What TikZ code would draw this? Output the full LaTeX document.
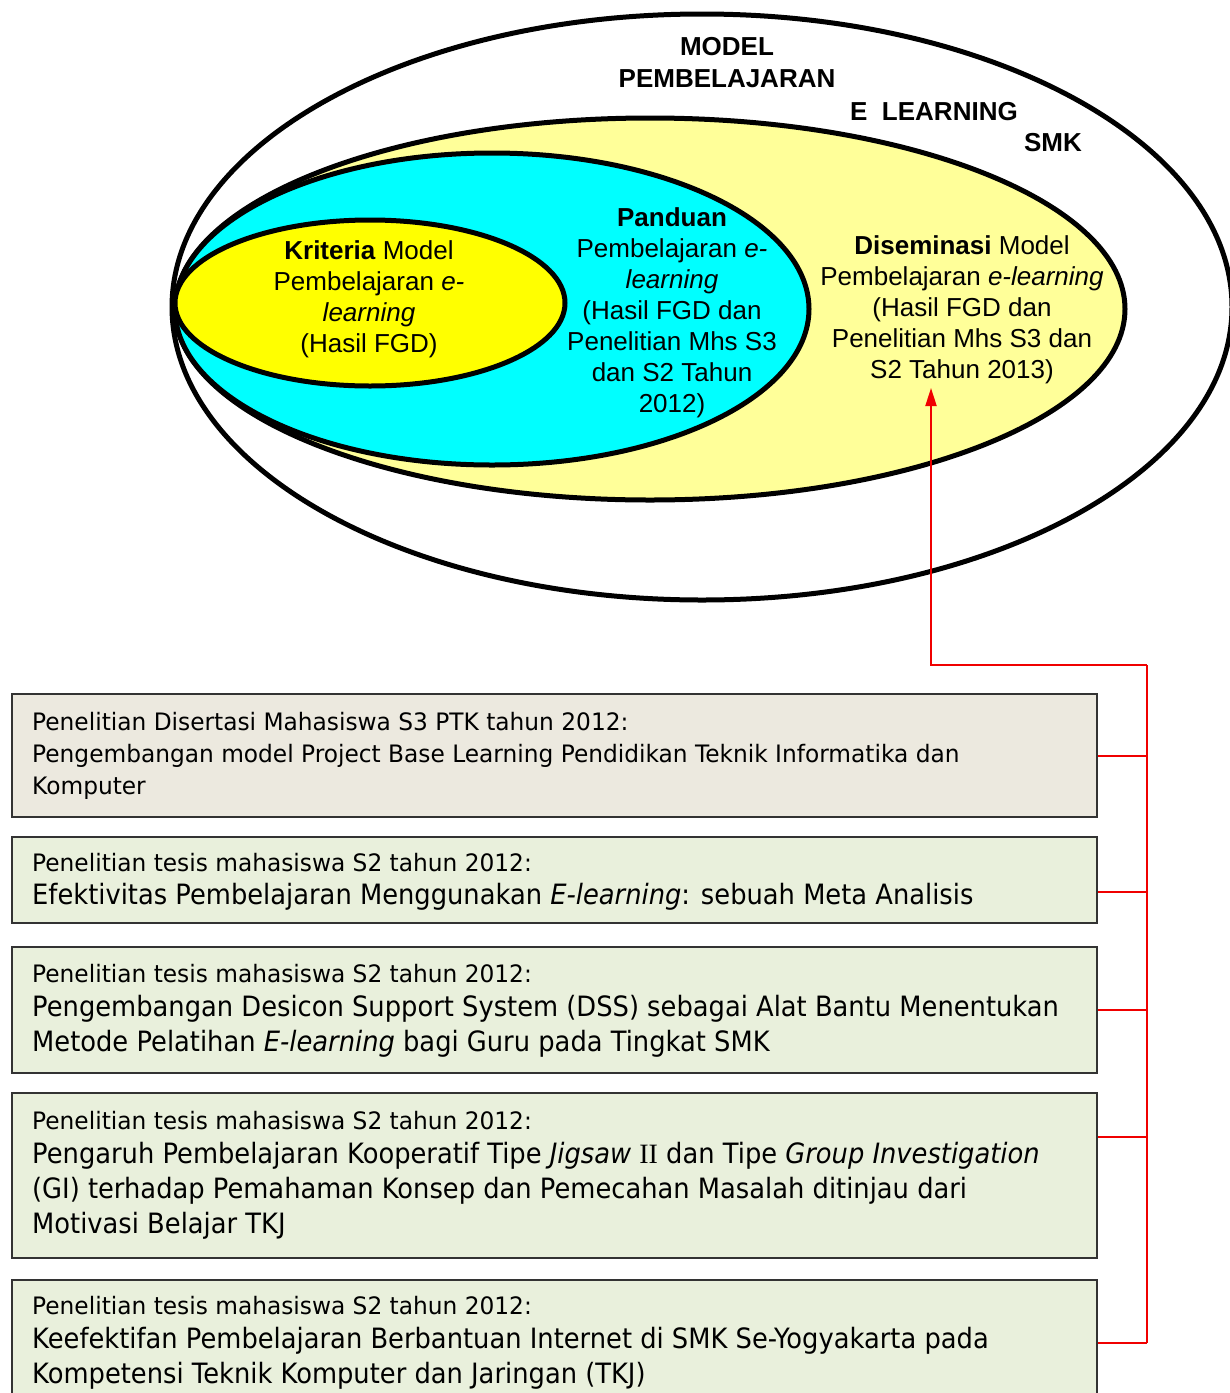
\documentclass[tikz,border=0pt]{standalone}
\usepackage{fontspec}
\setmainfont{Liberation Sans}
\newfontfamily\boxfontS[FakeStretch=0.97]{DejaVu Sans}
\newfontfamily\boxfontL[FakeStretch=0.92]{DejaVu Sans}
\newfontfamily\serifII{Liberation Serif}
\usetikzlibrary{arrows.meta}
\definecolor{paleY}{HTML}{FFFF99}
\definecolor{cyanE}{HTML}{00FFFF}
\definecolor{yelE}{HTML}{FFFF00}
\definecolor{boxA}{HTML}{ECE9DF}
\definecolor{boxB}{HTML}{E9F0DC}
\definecolor{boxline}{HTML}{333333}
\definecolor{redL}{HTML}{F00000}
\newcommand\bxsmall{\boxfontS\fontsize{24}{32}\selectfont}
\newcommand\bxlarge{\boxfontL\fontsize{28}{35}\selectfont}
\begin{document}
\begin{tikzpicture}[x=1pt,y=-1pt,
  ell/.style={line width=5pt,draw=black},
  etext/.style={align=center,font=\fontsize{26}{31}\selectfont,inner sep=0pt},
  ttl/.style={font=\bfseries\fontsize{26}{30}\selectfont,inner sep=0pt},
  rbox/.style={draw=boxline,line width=2pt,minimum width=1085pt,anchor=north west,inner sep=0pt},
  btext/.style={align=left,anchor=west,inner sep=0pt},
  conn/.style={draw=redL,line width=2pt}]
\clip (0,0) rectangle (1230,1393);
\fill[white] (0,0) rectangle (1230,1393);
% ellipses
\draw[ell,fill=white] (702,307) ellipse [x radius=530pt, y radius=293pt];
\draw[ell,fill=paleY] (650,309) ellipse [x radius=475pt, y radius=191pt];
\draw[ell,fill=cyanE] (492,309) ellipse [x radius=317pt, y radius=156pt];
\draw[ell,fill=yelE] (370,303) ellipse [x radius=195pt, y radius=83pt];
% titles
\node[ttl] (t1) at (727,47) {MODEL};
\node[ttl] (t2) at (727,79) {PEMBELAJARAN};
\node[ttl] (t3) at (934,112) {E\ \ LEARNING};
\node[ttl] (t4) at (1053,143) {SMK};
% ellipse texts
\node[etext] (krit) at (369,299) {\textbf{Kriteria} Model\\Pembelajaran \textit{e-}\\\textit{learning}\\(Hasil FGD)};
\node[etext] (pand) at (672,313) {\textbf{Panduan}\\Pembelajaran \textit{e-}\\\textit{learning}\\(Hasil FGD dan\\Penelitian Mhs S3\\dan S2 Tahun\\2012)};
\node[etext] (dis) at (962,310) {\textbf{Diseminasi} Model\\Pembelajaran \textit{e-learning}\\(Hasil FGD dan\\Penelitian Mhs S3 dan\\S2 Tahun 2013)};
% boxes
\node[rbox,fill=boxA,minimum height=123pt] (b1) at (11,693) {};
\node[rbox,fill=boxB,minimum height=86pt] (b2) at (11,836) {};
\node[rbox,fill=boxB,minimum height=126pt] (b3) at (11,946) {};
\node[rbox,fill=boxB,minimum height=165pt] (b4) at (11,1092) {};
\node[rbox,fill=boxB,minimum height=126pt] (b5) at (11,1279) {};
\node[btext,font=\bxsmall] (x1) at ([xshift=21pt]b1.west) {Penelitian Disertasi Mahasiswa S3 PTK tahun 2012:\\Pengembangan model Project Base Learning Pendidikan Teknik Informatika dan\\Komputer};
\node[btext,font=\bxlarge] (x2) at ([xshift=21pt,yshift=-2pt]b2.west) {{\bxsmall Penelitian tesis mahasiswa S2 tahun 2012:}\\[-1.5pt]Efektivitas Pembelajaran Menggunakan \textit{E-learning}: sebuah Meta Analisis};
\node[btext,font=\bxlarge] (x3) at ([xshift=21pt,yshift=-1pt]b3.west) {{\bxsmall Penelitian tesis mahasiswa S2 tahun 2012:}\\[-1.5pt]Pengembangan Desicon Support System (DSS) sebagai Alat Bantu Menentukan\\Metode Pelatihan \textit{E-learning} bagi Guru pada Tingkat SMK};
\node[btext,font=\bxlarge] (x4) at ([xshift=21pt]b4.west) {{\bxsmall Penelitian tesis mahasiswa S2 tahun 2012:}\\[-1.5pt]Pengaruh Pembelajaran Kooperatif Tipe \textit{Jigsaw} {\serifII II} dan Tipe \textit{Group Investigation}\\(GI) terhadap Pemahaman Konsep dan Pemecahan Masalah ditinjau dari\\Motivasi Belajar TKJ};
\node[btext,font=\bxlarge] (x5) at ([xshift=21pt]b5.west) {{\bxsmall Penelitian tesis mahasiswa S2 tahun 2012:}\\[-1.5pt]Keefektifan Pembelajaran Berbantuan Internet di SMK Se-Yogyakarta pada\\Kompetensi Teknik Komputer dan Jaringan (TKJ)};
% connectors
\coordinate (tip) at (931,388);
\coordinate (elbow) at (931,665);
\coordinate (busTop) at (1147,665);
\coordinate (busBot) at (b5.east -| busTop);
\draw[conn,-{Triangle[length=18pt,width=11pt]}] (busTop) -- (elbow) -- (tip);
\draw[conn] (busTop) -- (busBot);
\draw[conn] (b1.east) -- (b1.east -| busTop);
\draw[conn] ([yshift=-12pt]b2.east) -- ([yshift=-12pt]b2.east -| busTop);
\draw[conn] (b3.east) -- (b3.east -| busTop);
\draw[conn] ([yshift=38.5pt]b4.east) -- ([yshift=38.5pt]b4.east -| busTop);
\draw[conn] (b5.east) -- (busBot);
\end{tikzpicture}
\end{document}
